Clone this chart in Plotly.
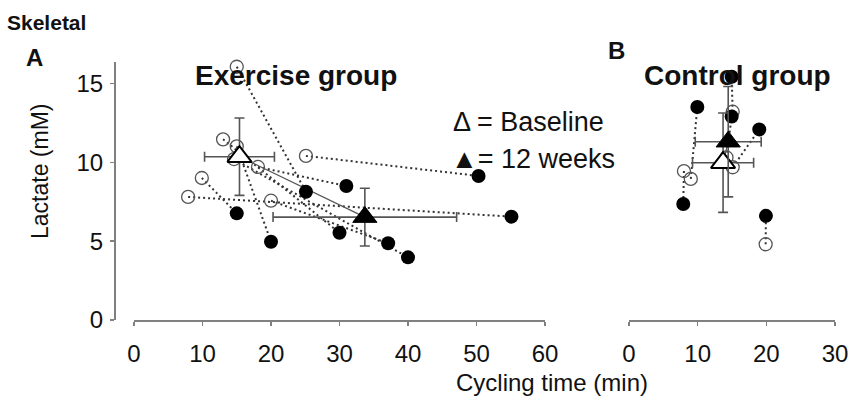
import plotly.graph_objects as go

# ---------------- data ----------------
# Exercise group: baseline (open) and 12 weeks (filled), paired by index
ex_base_x = [15.0, 13.0, 15.0, 18.1, 25.1, 9.9, 7.9, 20.0, 14.6]
ex_base_y = [16.05, 11.45, 11.0, 9.7, 10.4, 9.0, 7.8, 7.56, 10.2]
ex_wk12_x = [25.1, 30.0, 20.0, 31.0, 50.3, 15.0, 55.1, 37.1, 40.0]
ex_wk12_y = [8.13, 5.53, 4.96, 8.49, 9.13, 6.76, 6.55, 4.86, 3.97]
ex_mean_x = [15.4, 33.7]
ex_mean_y = [10.35, 6.52]
ex_sd_x = [5.1, 13.4]
ex_sd_y = [2.45, 1.83]

# Control group
ct_base_x = [15.1, 9.0, 15.1, 19.9, 8.0, 14.2]
ct_base_y = [13.2, 8.94, 9.68, 4.8, 9.44, 10.3]
ct_wk12_x = [14.95, 9.95, 18.97, 19.94, 7.9, 14.95]
ct_wk12_y = [15.42, 13.5, 12.08, 6.6, 7.35, 12.9]
ct_mean_x = [13.7, 14.45]
ct_mean_y = [9.97, 11.3]
ct_sd_x = [4.45, 4.8]
ct_sd_y = [3.15, 3.5]

x_ticks_a = [0, 10, 20, 30, 40, 50, 60]
x_ticks_b = [0, 10, 20, 30]
y_ticks = [0, 5, 10, 15]

W, H = 855, 401
FONT = "Arial, Liberation Sans, sans-serif"
AX = "#808080"
TXT = "#111111"


def px(x):
    return x / W


def py(y):
    return 1 - y / H


def pair_lines(bx, by, wx, wy):
    xs, ys = [], []
    for a, b, c, d in zip(bx, by, wx, wy):
        xs += [a, c, None]
        ys += [b, d, None]
    return xs, ys


fig = go.Figure()


def add_panel(xa, bx, by, wx, wy, mx, my, sx, sy):
    lx, ly = pair_lines(bx, by, wx, wy)
    fig.add_trace(go.Scatter(x=lx, y=ly, xaxis=xa, yaxis="y", mode="lines",
                             line=dict(color="#333333", width=2, dash="2px,3px"),
                             hoverinfo="skip", showlegend=False, cliponaxis=False))
    # mean connecting line
    fig.add_trace(go.Scatter(x=mx, y=my, xaxis=xa, yaxis="y", mode="lines",
                             line=dict(color="#555555", width=1.2),
                             hoverinfo="skip", showlegend=False, cliponaxis=False))
    fig.add_trace(go.Scatter(x=bx, y=by, xaxis=xa, yaxis="y", mode="markers",
                             marker=dict(symbol="circle-open", size=13, color="#555555",
                                         line=dict(color="#555555", width=1.3)),
                             showlegend=False, cliponaxis=False))
    fig.add_trace(go.Scatter(x=wx, y=wy, xaxis=xa, yaxis="y", mode="markers",
                             marker=dict(symbol="circle", size=14, color="#000000"),
                             showlegend=False, cliponaxis=False))
    # baseline mean (white triangle)
    fig.add_trace(go.Scatter(x=[mx[0]], y=[my[0]], xaxis=xa, yaxis="y", mode="markers",
                             marker=dict(symbol="triangle-up", size=21, color="white",
                                         line=dict(color="#000000", width=2)),
                             error_x=dict(type="data", array=[sx[0]], color="#555555",
                                          thickness=1.6, width=5),
                             error_y=dict(type="data", array=[sy[0]], color="#555555",
                                          thickness=1.6, width=5),
                             showlegend=False, cliponaxis=False))
    # 12-week mean (black triangle)
    fig.add_trace(go.Scatter(x=[mx[1]], y=[my[1]], xaxis=xa, yaxis="y", mode="markers",
                             marker=dict(symbol="triangle-up", size=21, color="#000000",
                                         line=dict(color="#000000", width=1)),
                             error_x=dict(type="data", array=[sx[1]], color="#555555",
                                          thickness=1.6, width=5),
                             error_y=dict(type="data", array=[sy[1]], color="#555555",
                                          thickness=1.6, width=5),
                             showlegend=False, cliponaxis=False))


add_panel("x", ex_base_x, ex_base_y, ex_wk12_x, ex_wk12_y, ex_mean_x, ex_mean_y, ex_sd_x, ex_sd_y)
add_panel("x2", ct_base_x, ct_base_y, ct_wk12_x, ct_wk12_y, ct_mean_x, ct_mean_y, ct_sd_x, ct_sd_y)

xcommon = dict(showline=True, linecolor=AX, linewidth=1.5, ticks="outside", ticklen=4,
               tickcolor=AX, tickwidth=1.3, showgrid=False, zeroline=False,
               tickfont=dict(family=FONT, size=24, color=TXT), ticklabelstandoff=8,
               anchor="y", fixedrange=True, automargin=False)

fig.update_layout(
    template="none",
    width=W, height=H, margin=dict(l=0, r=0, t=0, b=0, pad=0, autoexpand=False),
    paper_bgcolor="white", plot_bgcolor="white", showlegend=False,
    xaxis=dict(domain=[px(134), px(545)], range=[0, 60], tickvals=x_ticks_a, **xcommon),
    xaxis2=dict(domain=[px(629), px(835)], range=[0, 30], tickvals=x_ticks_b, **xcommon),
    yaxis=dict(domain=[py(320), py(62)], range=[0, 16.35], tickvals=y_ticks,
               anchor="free", position=px(114), showline=True, linecolor=AX, linewidth=1.5,
               ticks="outside", ticklen=4, tickcolor=AX, tickwidth=1.3, showgrid=False,
               zeroline=False, tickfont=dict(family=FONT, size=24, color=TXT),
               ticklabelstandoff=2, fixedrange=True, automargin=False),
)


def ann(text, x, y, size, bold=False, xanchor="left", angle=0):
    fig.add_annotation(text=f"<b>{text}</b>" if bold else text, xref="paper", yref="paper",
                       x=px(x), y=py(y), xanchor=xanchor, yanchor="middle", showarrow=False,
                       textangle=angle, font=dict(family=FONT, size=size, color=TXT))


ann("Skeletal", 5, 22, 21, bold=True)
ann("A", 24, 57, 24, bold=True)
ann("B", 606, 50, 24, bold=True)
ann("Exercise group", 193, 75, 28, bold=True)
ann("Control group", 642, 75, 28, bold=True)
ann("Δ = Baseline", 451, 122, 27)
ann("▲= 12 weeks", 449, 159, 27)
ann("Cycling time (min)", 552, 382, 24, xanchor="center")
ann("Lactate (mM)", 40, 172, 23, xanchor="center", angle=-90)

fig.write_html(
    "out.html",
    config={"displayModeBar": False, "staticPlot": True},
    post_script="document.body.style.margin='0px';document.body.style.overflow='hidden';",
)
